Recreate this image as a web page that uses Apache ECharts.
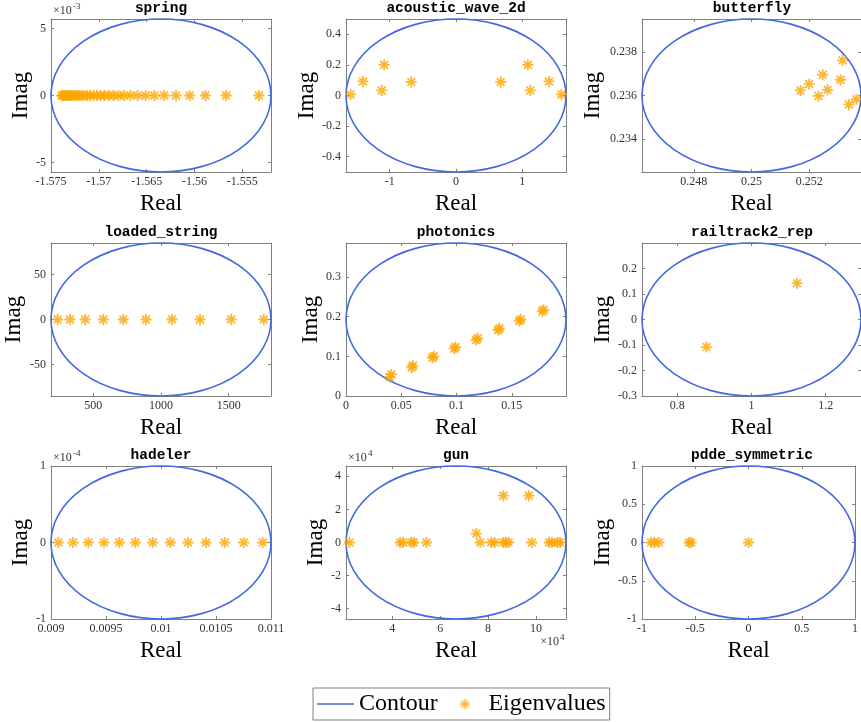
<!DOCTYPE html>
<html><head><meta charset="utf-8">
<script src="https://cdn.jsdelivr.net/npm/echarts@6/dist/echarts.min.js"></script>
<style>html,body{margin:0;padding:0;background:#fff}#c{width:861px;height:722px}</style>
</head><body><div id="c"></div>
<script>
// ---------------- DATA ----------------
const titles = ['spring','acoustic_wave_2d','butterfly','loaded_string','photonics','railtrack2_rep','hadeler','gun','pdde_symmetric'];

// contour ellipses: [centerReal, centerImag, radiusReal, radiusImag]
const springContour    = [-1.5635, 0, 0.0115, 0.0057];
const acousticContour  = [0, 0, 1.66, 0.5];
const butterflyContour = [0.25, 0.236, 0.0038, 0.0035];
const loadedContour    = [1000, 0, 812, 85];
const photonicsContour = [0.0995, 0.193, 0.0995, 0.193];
const railtrackContour = [1, 0, 0.295, 0.3];
const hadelerContour   = [0.01, 0, 0.001, 0.0001];
const gunContour       = [66600, 0, 45900, 46200];
const pddeContour      = [0, 0, 1, 1];

// axis limits
const springXLim = [-1.575, -1.552],  springYLim = [-0.0057, 0.0057];
const acousticXLim = [-1.66, 1.66],   acousticYLim = [-0.5, 0.5];
const butterflyXLim = [0.2462, 0.2538], butterflyYLim = [0.2325, 0.2395];
const loadedXLim = [188, 1812],       loadedYLim = [-85, 85];
const photonicsXLim = [0, 0.199],     photonicsYLim = [0, 0.386];
const railtrackXLim = [0.705, 1.295], railtrackYLim = [-0.3, 0.3];
const hadelerXLim = [0.009, 0.011],   hadelerYLim = [-0.0001, 0.0001];
const gunXLim = [20700, 112500],      gunYLim = [-46200, 46200];
const pddeXLim = [-1, 1],             pddeYLim = [-1, 1];

// tick values
const springXTicks = [-1.575, -1.57, -1.565, -1.56, -1.555], springYTicks = [-0.005, 0, 0.005];
const acousticXTicks = [-1, 0, 1], acousticYTicks = [-0.4, -0.2, 0, 0.2, 0.4];
const butterflyXTicks = [0.248, 0.25, 0.252], butterflyYTicks = [0.234, 0.236, 0.238];
const loadedXTicks = [500, 1000, 1500], loadedYTicks = [-50, 0, 50];
const photonicsXTicks = [0, 0.05, 0.1, 0.15], photonicsYTicks = [0, 0.1, 0.2, 0.3];
const railtrackXTicks = [0.8, 1, 1.2], railtrackYTicks = [-0.3, -0.2, -0.1, 0, 0.1, 0.2];
const hadelerXTicks = [0.009, 0.0095, 0.01, 0.0105, 0.011], hadelerYTicks = [-0.0001, 0, 0.0001];
const gunXTicks = [40000, 60000, 80000, 100000], gunYTicks = [-40000, -20000, 0, 20000, 40000];
const pddeXTicks = [-1, -0.5, 0, 0.5, 1], pddeYTicks = [-1, -0.5, 0, 0.5, 1];

// tick label scale factors (axis exponent labels)
const xLabelScale = [1, 1, 1, 1, 1, 1, 1, 1e-4, 1];
const yLabelScale = [1e3, 1, 1, 1, 1, 1, 1e4, 1e-4, 1];
const exponentLabels = [
  {plot: 0, side: 'y', text: '×10', sup: '-3'},
  {plot: 6, side: 'y', text: '×10', sup: '-4'},
  {plot: 7, side: 'y', text: '×10', sup: '4'},
  {plot: 7, side: 'x', text: '×10', sup: '4'}
];

// eigenvalues
const springReal = [-1.55327, -1.55669, -1.55886, -1.5605, -1.56193, -1.56316, -1.5642, -1.56511, -1.56595, -1.56668,
  -1.56735, -1.56794, -1.56847, -1.56896, -1.56941, -1.56983, -1.57021, -1.57056, -1.57091, -1.57123,
  -1.57151, -1.57179, -1.57203, -1.57227, -1.57248, -1.57269, -1.5729, -1.57308, -1.57325, -1.57343,
  -1.57357, -1.57371, -1.57381, -1.57388];
const springImag = [0,0,0,0,0,0,0,0,0,0, 0,0,0,0,0,0,0,0,0,0, 0,0,0,0,0,0,0,0,0,0, 0,0,0,0];

const acousticReal = [-1.59, -1.405, -1.085, -1.12, -0.675, 0.675, 1.085, 1.12, 1.405, 1.59];
const acousticImag = [0.007, 0.092, 0.2, 0.033, 0.088, 0.088, 0.2, 0.033, 0.092, 0.007];

const butterflyReal = [0.2517, 0.252, 0.25232, 0.25247, 0.25264, 0.25309, 0.25316, 0.25338, 0.25364];
const butterflyImag = [0.23623, 0.23652, 0.23598, 0.23695, 0.23626, 0.23672, 0.23761, 0.23559, 0.23583];

const loadedReal = [236.5, 327.6, 440.9, 573.9, 721.7, 889.2, 1081.3, 1288.2, 1517.2, 1758.6];
const loadedImag = [0, 0, 0, 0, 0, 0, 0, 0, 0, 0];

const photonicsReal = [0.0409, 0.0395, 0.0606, 0.0594, 0.0794, 0.0782, 0.0991, 0.0979, 0.119, 0.1178, 0.1388, 0.1376, 0.158, 0.1568, 0.1788, 0.1776];
const photonicsImag = [0.0545, 0.0480, 0.0766, 0.0721, 0.1002, 0.0967, 0.1235, 0.1195, 0.1455, 0.1415, 0.1705, 0.1665, 0.193, 0.189, 0.2175, 0.2135];

const railtrackReal = [1.1226, 0.879];
const railtrackImag = [0.1425, -0.108];

const hadelerReal = [0.0090667, 0.0092, 0.0093394, 0.0094818, 0.0096212, 0.0097667, 0.0099242, 0.0100848, 0.0102455, 0.0104091, 0.0105788, 0.0107515, 0.0109242];
const hadelerImag = [0, 0, 0, 0, 0, 0, 0, 0, 0, 0, 0, 0, 0];

const gunReal = [22100, 43300, 44500, 48000, 49000, 54300, 75100, 76700, 81300, 82700, 86400, 87500, 88600, 86400, 97000, 98200, 105500, 106600, 109000, 110000];
const gunImag = [0, 0, 0, 0, 0, 0, 5400, 0, 0, 0, 0, 0, 0, 28300, 28300, 0, 0, 0, 0, 0];

const pddeReal = [-0.915, -0.888, -0.842, -0.559, -0.538, 0];
const pddeImag = [0, 0, 0, 0, 0, 0];

// ---------------- LAYOUT / STYLE ----------------
const colLeft = [51, 346, 642], rowTop = [19, 243, 466], W = 220, H = 153;
const yNameGap = [17, 27, 38, 26, 23, 28, 18, 18, 28];
const SERIF = '"Liberation Serif","Times New Roman",serif';
const MONO = '"Liberation Mono","DejaVu Sans Mono",monospace';
const BLUE = '#4169E1', ORANGE = '#FFA500', AXIS = '#808080';
const ASTERISK = 'path://M0,5L10,5M5,0L5,10M1.46,1.46L8.54,8.54M1.46,8.54L8.54,1.46';
const ASTERISK_WIDE = 'path://M0,0M37,10M13.5,5L23.5,5M18.5,0L18.5,10M14.96,1.46L22.04,8.54M14.96,8.54L22.04,1.46';

const plots = [
  {c: springContour, xl: springXLim, yl: springYLim, xt: springXTicks, yt: springYTicks, re: springReal, im: springImag},
  {c: acousticContour, xl: acousticXLim, yl: acousticYLim, xt: acousticXTicks, yt: acousticYTicks, re: acousticReal, im: acousticImag},
  {c: butterflyContour, xl: butterflyXLim, yl: butterflyYLim, xt: butterflyXTicks, yt: butterflyYTicks, re: butterflyReal, im: butterflyImag},
  {c: loadedContour, xl: loadedXLim, yl: loadedYLim, xt: loadedXTicks, yt: loadedYTicks, re: loadedReal, im: loadedImag},
  {c: photonicsContour, xl: photonicsXLim, yl: photonicsYLim, xt: photonicsXTicks, yt: photonicsYTicks, re: photonicsReal, im: photonicsImag},
  {c: railtrackContour, xl: railtrackXLim, yl: railtrackYLim, xt: railtrackXTicks, yt: railtrackYTicks, re: railtrackReal, im: railtrackImag},
  {c: hadelerContour, xl: hadelerXLim, yl: hadelerYLim, xt: hadelerXTicks, yt: hadelerYTicks, re: hadelerReal, im: hadelerImag},
  {c: gunContour, xl: gunXLim, yl: gunYLim, xt: gunXTicks, yt: gunYTicks, re: gunReal, im: gunImag},
  {c: pddeContour, xl: pddeXLim, yl: pddeYLim, xt: pddeXTicks, yt: pddeYTicks, re: pddeReal, im: pddeImag}
];

function fmt(scale) {
  return v => String(parseFloat((v * scale).toPrecision(10)));
}

function renderEllipse(params, api) {
  const cx = api.value(0), cy = api.value(1), rx = api.value(2), ry = api.value(3);
  const c = api.coord([cx, cy]);
  const pr = api.coord([cx + rx, cy]);
  const pt = api.coord([cx, cy + ry]);
  const prx = Math.abs(pr[0] - c[0]), pry = Math.abs(c[1] - pt[1]);
  const x0 = c[0] - prx, x1 = c[0] + prx, y = c[1];
  return {
    type: 'path',
    shape: {pathData: `M${x0},${y} A${prx},${pry} 0 1 0 ${x1},${y} A${prx},${pry} 0 1 0 ${x0},${y} Z`},
    style: {fill: 'none', stroke: BLUE, lineWidth: 1.6}
  };
}

const grids = [], xAxes = [], yAxes = [], series = [], graphics = [];
plots.forEach((p, i) => {
  const left = colLeft[i % 3], top = rowTop[Math.floor(i / 3)];
  grids.push({left: left, top: top, width: W, height: H, containLabel: false});
  const lineStyle = {color: AXIS, width: 1};
  const tick = vals => ({show: true, inside: true, length: 3, customValues: vals, lineStyle: {color: AXIS, width: 1}});
  xAxes.push({
    gridIndex: i, type: 'value', position: 'bottom', min: p.xl[0], max: p.xl[1],
    axisLine: {show: true, onZero: false, lineStyle}, axisTick: tick(p.xt),
    axisLabel: {customValues: p.xt, formatter: fmt(xLabelScale[i]), margin: 4, color: '#333', fontFamily: SERIF, fontSize: 12},
    splitLine: {show: false},
    name: 'Real', nameLocation: 'middle', nameGap: 20,
    nameTextStyle: {fontFamily: SERIF, fontSize: 23, color: '#000'}
  });
  xAxes.push({
    gridIndex: i, type: 'value', position: 'top', min: p.xl[0], max: p.xl[1],
    axisLine: {show: true, onZero: false, lineStyle}, axisTick: tick(p.xt),
    axisLabel: {show: false}, splitLine: {show: false}
  });
  yAxes.push({
    gridIndex: i, type: 'value', position: 'left', min: p.yl[0], max: p.yl[1],
    axisLine: {show: true, onZero: false, lineStyle}, axisTick: tick(p.yt),
    axisLabel: {customValues: p.yt, formatter: fmt(yLabelScale[i]), margin: 5, color: '#333', fontFamily: SERIF, fontSize: 12},
    splitLine: {show: false},
    name: 'Imag', nameLocation: 'middle', nameGap: yNameGap[i],
    nameTextStyle: {fontFamily: SERIF, fontSize: 23, color: '#000'}
  });
  yAxes.push({
    gridIndex: i, type: 'value', position: 'right', min: p.yl[0], max: p.yl[1],
    axisLine: {show: true, onZero: false, lineStyle}, axisTick: tick(p.yt),
    axisLabel: {show: false}, splitLine: {show: false}
  });
  series.push({
    type: 'custom', name: 'Contour', xAxisIndex: 2 * i, yAxisIndex: 2 * i,
    renderItem: renderEllipse, data: [p.c], color: BLUE, itemStyle: {color: BLUE}, z: 2, silent: true
  });
  series.push({
    type: 'scatter', name: 'Eigenvalues', xAxisIndex: 2 * i, yAxisIndex: 2 * i,
    data: p.re.map((r, j) => [r, p.im[j]]),
    symbol: ASTERISK, symbolSize: 11, color: ORANGE,
    itemStyle: {color: 'rgba(0,0,0,0)', borderColor: ORANGE, borderWidth: 1.8},
    z: 3, silent: true
  });
  graphics.push({
    type: 'text', x: left + W / 2, y: top - 11,
    style: {text: titles[i], align: 'center', verticalAlign: 'middle', font: 'bold 14.5px ' + MONO, fill: '#000'}
  });
});

exponentLabels.forEach(e => {
  const left = colLeft[e.plot % 3], top = rowTop[Math.floor(e.plot / 3)];
  if (e.side === 'y') {
    graphics.push({type: 'text', x: left + 2, y: top - 8,
      style: {text: e.text, align: 'left', verticalAlign: 'middle', font: '12px ' + SERIF, fill: '#333'}});
    graphics.push({type: 'text', x: left + 22, y: top - 12,
      style: {text: e.sup, align: 'left', verticalAlign: 'middle', font: '9px ' + SERIF, fill: '#333'}});
  } else {
    graphics.push({type: 'text', x: left + W - 7, y: top + H + 23,
      style: {text: e.text, align: 'right', verticalAlign: 'middle', font: '12px ' + SERIF, fill: '#333'}});
    graphics.push({type: 'text', x: left + W - 6, y: top + H + 19,
      style: {text: e.sup, align: 'left', verticalAlign: 'middle', font: '9px ' + SERIF, fill: '#333'}});
  }
});

const chart = echarts.init(document.getElementById('c'), null, {renderer: 'canvas', width: 861, height: 722});
chart.setOption({
  animation: false,
  backgroundColor: '#fff',
  grid: grids,
  xAxis: xAxes,
  yAxis: yAxes,
  series: series,
  graphic: graphics,
  legend: {
    left: 313, top: 688, orient: 'horizontal',
    itemWidth: 37, itemHeight: 10, itemGap: 8, padding: [4, 4],
    borderColor: AXIS, borderWidth: 1, backgroundColor: '#fff',
    textStyle: {fontFamily: SERIF, fontSize: 24, color: '#000'},
    selectedMode: false,
    data: [
      {name: 'Contour', icon: 'path://M0,0L37,0L37,1.6L0,1.6Z', itemStyle: {color: BLUE, borderWidth: 0}},
      {name: 'Eigenvalues', icon: ASTERISK_WIDE, itemStyle: {color: 'rgba(0,0,0,0)', borderColor: ORANGE, borderWidth: 1.5}}
    ]
  }
});
</script></body></html>
